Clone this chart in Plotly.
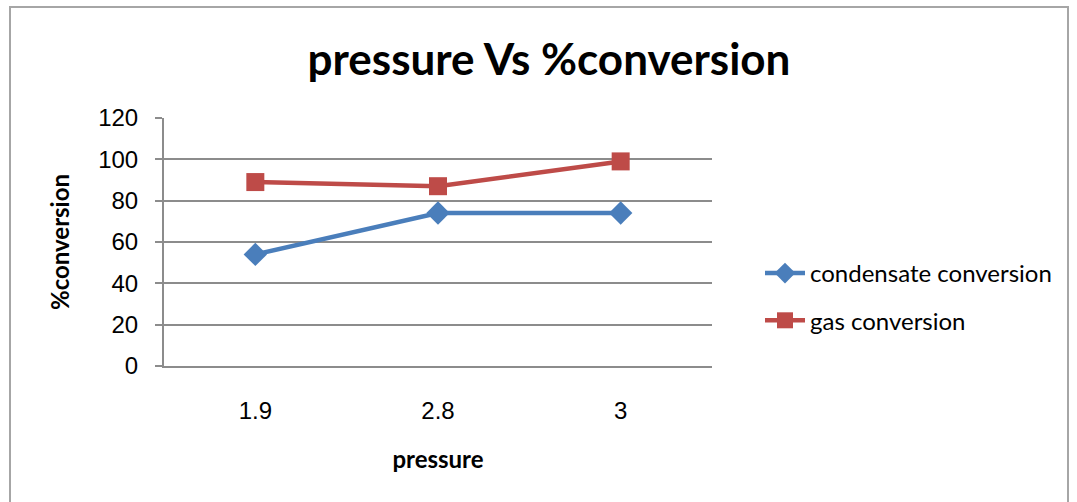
import plotly.graph_objects as go

# Chart data
pressure = ["1.9", "2.8", "3"]
condensate_conversion = [54, 74, 74]
gas_conversion = [89, 87, 99]
y_ticks = [0, 20, 40, 60, 80, 100, 120]

W, H = 1077, 502
L, R, T, B = 164, 365, 118, 136
grid = "#8c8c8c"

fig = go.Figure()
fig.add_trace(go.Scatter(
    x=pressure, y=condensate_conversion, name="condensate conversion",
    mode="lines+markers", legendgroup="c",
    line=dict(color="#4A7EBB", width=4.5),
    marker=dict(symbol="diamond", size=18, color="#4A7EBB"),
))
fig.add_trace(go.Scatter(
    x=pressure, y=gas_conversion, name="gas conversion",
    mode="lines+markers", legendgroup="g",
    line=dict(color="#BE4B48", width=4.5),
    marker=dict(symbol="square", size=18, color="#BE4B48"),
))

# outer chart frame, expressed in plot-area (paper) units
pw, ph = W - L - R, H - T - B
def px_x(x):
    return (x - L) / pw
def px_y(y):
    return (H - B - y) / ph

fig.add_shape(type="rect", xref="paper", yref="paper",
              x0=px_x(10), x1=px_x(1068), y0=px_y(520), y1=px_y(7),
              line=dict(color="#a6a6a6", width=2), layer="below")

fig.update_layout(
    width=W, height=H,
    margin=dict(l=L, r=R, t=T, b=B),
    paper_bgcolor="white", plot_bgcolor="white",
    title=dict(text="<b>pressure Vs %conversion</b>", x=px_x(549), xanchor="center",
               xref="paper", y=1 - 60 / H, yanchor="middle", yref="container",
               font=dict(family="Lato", size=44, color="black")),
    legend=dict(x=px_x(760), y=px_y(251), xanchor="left", yanchor="top",
                xref="paper", yref="paper",
                font=dict(family="Lato", size=24, color="black"),
                tracegroupgap=13, itemwidth=40,
                bgcolor="rgba(0,0,0,0)"),
    xaxis=dict(type="category", range=[-0.5, 2.5], showgrid=False,
               showline=True, linecolor=grid, linewidth=2, ticks="",
               tickfont=dict(family="Liberation Sans", size=24, color="black"),
               ticklabelstandoff=22,
               title=dict(text="<b>pressure</b>", standoff=28,
                          font=dict(family="Lato", size=24, color="black"))),
    yaxis=dict(range=[0, 120], tickvals=y_ticks, showgrid=True,
               gridcolor=grid, gridwidth=2, zeroline=False,
               showline=True, linecolor=grid, linewidth=2,
               ticks="outside", ticklen=7, tickcolor=grid, tickwidth=2,
               tickfont=dict(family="Liberation Sans", size=24, color="black"),
               ticklabelstandoff=12,
               title=dict(text="<b>%conversion</b>", standoff=22,
                          font=dict(family="Lato", size=24, color="black"))),
)

fig.write_html("out.html")
